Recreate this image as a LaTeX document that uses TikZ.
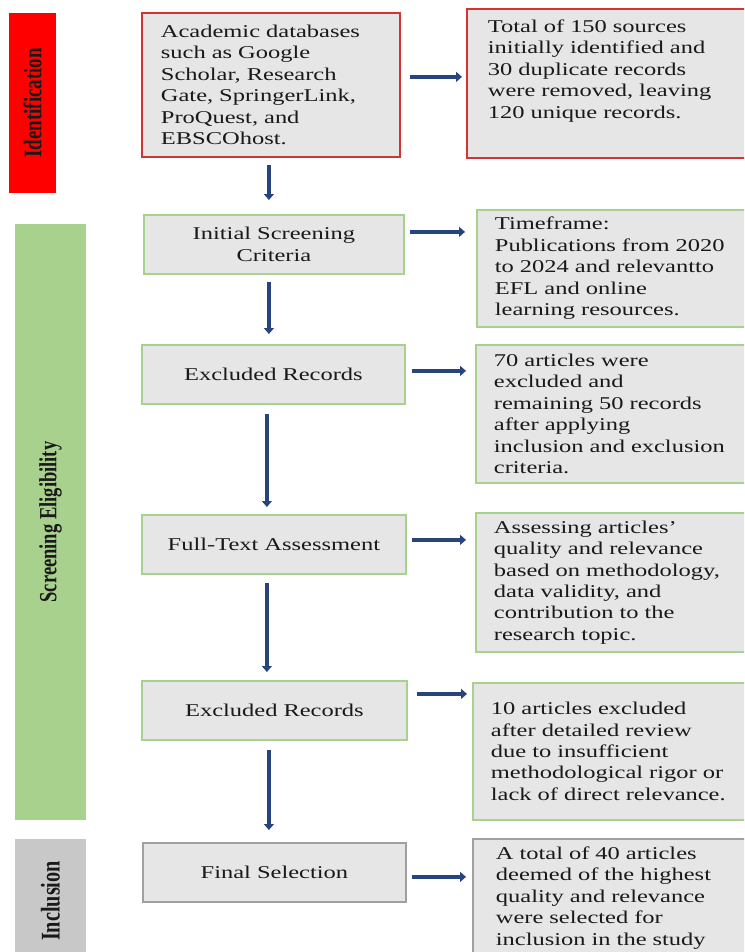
\documentclass[tikz,border=0pt]{standalone}
\usepackage{fontspec}
\setmainfont{Liberation Serif}[FakeStretch=1.36]
\newfontfamily\sidefont{Liberation Serif}[FakeStretch=0.75]
\usetikzlibrary{calc,arrows.meta}
\definecolor{boxfill}{RGB}{231,230,230}
\definecolor{redline}{RGB}{208,52,52}
\definecolor{greenline}{RGB}{169,209,142}
\definecolor{grayline}{RGB}{160,160,160}
\definecolor{redbar}{RGB}{255,0,0}
\definecolor{greenbar}{RGB}{169,209,142}
\definecolor{graybar}{RGB}{200,200,200}
\definecolor{arrowblue}{RGB}{40,68,125}
\definecolor{labeltext}{RGB}{25,25,25}
\begin{document}
\begin{tikzpicture}[x=1pt,y=-1pt,
  every node/.style={font=\fontsize{18}{21.4}\selectfont, text=labeltext},
  leftbox/.style={draw, line width=1.8pt, fill=boxfill, inner sep=0pt, anchor=north west},
  rightbox/.style={draw, line width=1.8pt, fill=boxfill, inner ysep=0pt, anchor=north west, align=left, text width=300pt},
  sidebar/.style={draw=none, rotate=90, inner sep=0pt},
  arr/.style={draw=arrowblue, line width=3.5pt, -{Triangle[length=6pt,width=10pt]}}
]
\clip (0,0) rectangle (744,952);
\fill[white] (0,0) rectangle (744,952);

% side bars
\node[sidebar, fill=redbar, minimum width=180pt, minimum height=47pt,
  font=\sidefont\bfseries\fontsize{25.3}{26}\selectfont] (idbar) at (32.5,103) {Identification};
\node[sidebar, fill=greenbar, minimum width=596pt, minimum height=71pt,
  font=\sidefont\bfseries\fontsize{24.7}{26}\selectfont] (scbar) at (50.5,522) {Screening Eligibility};
\node[sidebar, fill=graybar, minimum width=124pt, minimum height=71pt,
  font=\sidefont\bfseries\fontsize{27}{28}\selectfont] (inbar) at (50.5,901) {Inclusion};

% left column
\node[leftbox, draw=redline, minimum width=258pt, minimum height=144pt, text width=220pt, align=left] (A1) at (141,12)
 {Academic databases\\ such as Google\\ Scholar, Research\\ Gate, SpringerLink,\\ ProQuest, and\\ EBSCOhost.};
\node[leftbox, draw=greenline, minimum width=260pt, minimum height=59pt, text width=240pt, align=center] (Init) at (143,214)
 {Initial Screening\\ Criteria};
\node[leftbox, draw=greenline, minimum width=263pt, minimum height=59pt, text width=240pt, align=center] (Ex1) at (141,344)
 {Excluded Records};
\node[leftbox, draw=greenline, minimum width=264pt, minimum height=59pt, text width=240pt, align=center] (FT) at (141,514)
 {Full-Text Assessment};
\node[leftbox, draw=greenline, minimum width=265pt, minimum height=59pt, text width=240pt, align=center] (Ex2) at (141,680)
 {Excluded Records};
\node[leftbox, draw=grayline, minimum width=263pt, minimum height=59pt, text width=240pt, align=center] (Final) at (142,842)
 {Final Selection};

% right column
\node[rightbox, draw=redline, inner xsep=21pt, minimum height=149pt] (B1) at (466,8)
 {Total of 150 sources\\ initially identified and\\ 30 duplicate records\\ were removed, leaving\\ 120 unique records.\rule[-29pt]{0pt}{0pt}};
\node[rightbox, draw=greenline, inner xsep=18pt, minimum height=117pt] (TF) at (476,209)
 {Timeframe:\\ Publications from 2020\\ to 2024 and relevantto\\ EFL and online\\ learning resources.};
\node[rightbox, draw=greenline, inner xsep=18pt, minimum height=138pt] (R70) at (475,344)
 {70 articles were\\ excluded and\\ remaining 50 records\\ after applying\\ inclusion and exclusion\\ criteria.};
\node[rightbox, draw=greenline, inner xsep=18pt, minimum height=139pt] (RAs) at (475,512)
 {Assessing articles’\\ quality and relevance\\ based on methodology,\\ data validity, and\\ contribution to the\\ research topic.};
\node[rightbox, draw=greenline, inner xsep=18pt, minimum height=137pt] (R10) at (472,682)
 {10 articles excluded\\ after detailed review\\ due to insufficient\\ methodological rigor or\\ lack of direct relevance.};
\node[rightbox, draw=grayline, inner xsep=23pt, minimum height=118pt] (R40) at (472,838)
 {A total of 40 articles\\ deemed of the highest\\ quality and relevance\\ were selected for\\ inclusion in the study};

% horizontal arrows
\draw[arr] ($(A1.east)+(9,-8)$) -- ($(B1.west |- A1.east)+(-4,-8)$);
\draw[arr] ($(Init.east)+(5,-12.5)$) -- ($(TF.west |- Init.east)+(-11,-12.5)$);
\draw[arr] ($(Ex1.east)+(6,-3.5)$) -- ($(R70.west |- Ex1.east)+(-9,-3.5)$);
\draw[arr] ($(FT.east)+(5,-4.5)$) -- ($(RAs.west |- FT.east)+(-9,-4.5)$);
\draw[arr] ($(Ex2.east)+(9,-16.5)$) -- ($(R10.west |- Ex2.east)+(-5,-16.5)$);
\draw[arr] ($(Final.east)+(5,4.5)$) -- ($(R40.west |- Final.east)+(-6,4.5)$);

% vertical arrows
\draw[arr] ($(A1.south)+(-2,7)$) -- ($(Init.north)+(-5,-14)$);
\draw[arr] ($(Init.south)+(-5,7)$) -- ($(Ex1.north)+(-4.5,-10)$);
\draw[arr] ($(Ex1.south)+(-6.5,9)$) -- ($(FT.north)+(-7,-7)$);
\draw[arr] ($(FT.south)+(-7,8)$) -- ($(Ex2.north)+(-7.5,-8)$);
\draw[arr] ($(Ex2.south)+(-5.5,9)$) -- ($(Final.north)+(-5.5,-12)$);
\end{tikzpicture}
\end{document}
